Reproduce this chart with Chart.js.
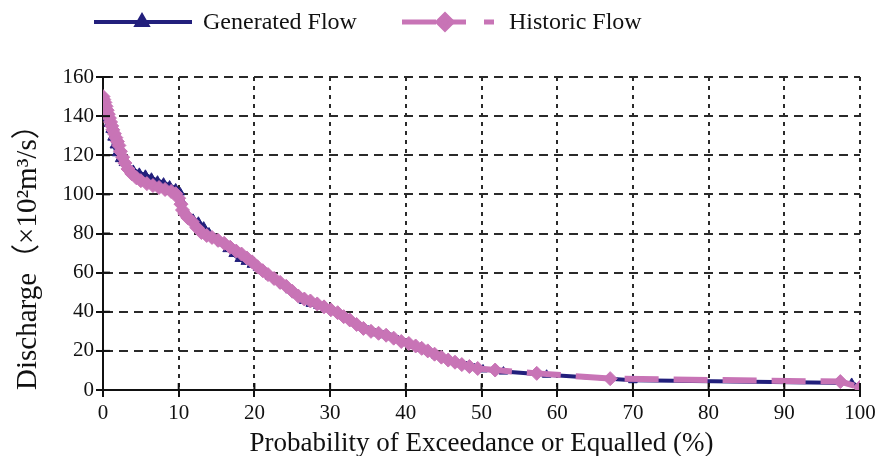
<!DOCTYPE html>
<html><head><meta charset="utf-8">
<script src="https://cdn.jsdelivr.net/npm/chart.js@4.4.1/dist/chart.umd.min.js"></script>
<style>html,body{margin:0;padding:0;background:#fff}</style>
</head><body>
<canvas id="c" width="885" height="456" style="width:885px;height:456px;display:block"></canvas>
<script>
// ---- data ----
const seriesNames = ['Generated Flow', 'Historic Flow'];
const xTitle = 'Probability of Exceedance or Equalled (%)';
const yTitle = 'Discharge\uFF08\u00D710\u00B2m\u00B3/s\uFF09';
const xTicks = [0, 10, 20, 30, 40, 50, 60, 70, 80, 90, 100];
const yTicks = [0, 20, 40, 60, 80, 100, 120, 140, 160];

const historicX = [0, 0.1, 0.25, 0.4, 0.55, 0.7, 0.85, 1.0, 1.15, 1.3, 1.5, 1.7, 1.9, 2.1, 2.3, 2.6, 2.9, 3.3, 3.8, 4.4,
  5.0, 5.8, 6.6, 7.4, 8.2, 9.0, 9.6, 10.0, 10.3, 10.5, 10.8, 11.2, 11.8, 12.4, 13.0, 13.7, 14.4, 15.2, 16.0, 16.8,
  17.6, 18.3, 19.0, 19.7, 20.4, 21.1, 21.8, 22.6, 23.4, 24.2, 25.0, 25.8, 26.6, 27.4, 28.3, 29.2, 30.1, 31.0, 31.8, 32.6,
  33.5, 34.4, 35.4, 36.4, 37.4, 38.4, 39.4, 40.4, 41.3, 42.1, 42.9, 43.8, 44.7, 45.6, 46.5, 47.4, 48.4, 49.5, 51.8, 57.3,
  67.0, 97.4, 100];
const historicY = [150, 148.5, 147, 145, 143, 141, 139, 137, 135, 133, 131, 129, 127, 125, 122, 119, 116, 113, 110.5, 108.5,
  107, 105.5, 104.5, 103.5, 102.5, 101.5, 100.3, 98, 95, 92, 90, 88, 86, 83, 80.5, 79, 78, 76.5, 75, 73,
  71, 69.5, 67.5, 65.5, 63, 61, 59, 57, 55, 53, 50.5, 48, 46.5, 45.5, 44, 42.5, 41, 39.5, 37.5, 35.8,
  33.5, 31.5, 30, 29, 28, 26.5, 24.8, 23.8, 22.5, 21.3, 20, 18.3, 16.8, 15.3, 14.2, 13, 12, 11, 10.2, 8.5,
  5.8, 4.3, 1.4];

const generatedX = [0, 0.2, 0.45, 0.7, 0.95, 1.2, 1.5, 1.8, 2.2, 2.7, 3.3, 4.0, 4.8, 5.6, 6.4, 7.2, 8.0, 8.8, 9.6, 10.2,
  10.5, 10.8, 11.3, 11.9, 12.6, 13.3, 14.0, 14.8, 15.6, 16.4, 17.2, 18.0, 18.8, 19.6, 20.4, 21.2, 22.0, 22.9, 23.8, 24.7,
  25.6, 26.5, 27.4, 28.4, 29.4, 30.4, 31.3, 32.2, 33.1, 34.0, 35.0, 36.0, 37.0, 38.0, 39.0, 40.0, 41.0, 42.0, 43.0, 44.0,
  45.0, 46.0, 47.0, 48.0, 49.0, 50.2, 52.9, 58.6, 70.0, 98.9, 100];
const generatedY = [142, 140.5, 139, 136, 133, 129, 125, 121, 118, 116, 114, 112.5, 111, 110, 108.5, 107, 106, 104.5, 103, 101,
  96, 91, 89, 87.5, 86, 83.5, 80.5, 77.5, 75, 72, 69.5, 67, 65.5, 64, 62.5, 60.5, 58, 56, 53.5, 51,
  48.5, 45.5, 44, 43, 41.5, 40, 38.5, 36.5, 34.5, 32.5, 30.5, 29, 28, 27, 25.5, 24, 22.5, 21, 19.5, 17.5,
  16, 14.5, 13.2, 12.2, 11.2, 10.5, 9.4, 7.8, 5.0, 3.6, 1.6];

// ---- styles ----
const NAVY = '#221f7c';
const PINK = '#c874b6';
const GRID = '#2a2a2a';
const SERIF = "'Liberation Serif', 'Times New Roman', 'Noto Sans CJK SC', serif";

const toPts = (xs, ys) => xs.map((x, i) => ({x, y: ys[i]}));

const innerTicks = {
  id: 'innerTicks',
  afterDraw(chart) {
    const {ctx, scales: {x, y}} = chart;
    ctx.save();
    ctx.strokeStyle = '#111';
    ctx.lineWidth = 2;
    const ax = x.getPixelForValue(0), ay = y.getPixelForValue(0);
    yTicks.forEach(v => { const py = y.getPixelForValue(v); ctx.beginPath(); ctx.moveTo(ax, py); ctx.lineTo(ax + 7, py); ctx.stroke(); });
    xTicks.forEach(v => { const px = x.getPixelForValue(v); ctx.beginPath(); ctx.moveTo(px, ay); ctx.lineTo(px, ay - 7); ctx.stroke(); });
    ctx.restore();
  }
};

const customLegend = {
  id: 'customLegend',
  afterDraw(chart) {
    const ctx = chart.ctx;
    const ly = 22;
    ctx.save();
    // Generated Flow
    ctx.strokeStyle = NAVY; ctx.lineWidth = 4; ctx.setLineDash([]);
    ctx.beginPath(); ctx.moveTo(94, ly); ctx.lineTo(192, ly); ctx.stroke();
    ctx.fillStyle = NAVY; ctx.strokeStyle = NAVY;
    Chart.helpers.drawPoint(ctx, {pointStyle: 'triangle', radius: 6, rotation: 0, borderWidth: 1}, 142, ly);
    // Historic Flow
    ctx.strokeStyle = PINK; ctx.lineWidth = 5;
    ctx.beginPath(); ctx.moveTo(402, ly); ctx.lineTo(436, ly); ctx.moveTo(452, ly); ctx.lineTo(466, ly); ctx.moveTo(484, ly); ctx.lineTo(494, ly); ctx.stroke();
    ctx.fillStyle = PINK; ctx.strokeStyle = PINK;
    Chart.helpers.drawPoint(ctx, {pointStyle: 'rectRot', radius: 7, rotation: 0, borderWidth: 1}, 445, ly);
    ctx.fillStyle = '#111';
    ctx.font = '24px ' + SERIF;
    ctx.textBaseline = 'middle';
    ctx.textAlign = 'left';
    ctx.fillText(seriesNames[0], 203, ly + 1);
    ctx.fillText(seriesNames[1], 509, ly + 1);
    ctx.restore();
  }
};

new Chart(document.getElementById('c'), {
  type: 'scatter',
  data: {
    datasets: [
      {
        label: seriesNames[0], data: toPts(generatedX, generatedY), showLine: true, order: 2,
        borderColor: NAVY, backgroundColor: NAVY, borderWidth: 4,
        pointStyle: 'triangle', pointRadius: 5, pointBorderWidth: 1, pointHoverRadius: 5
      },
      {
        label: seriesNames[1], data: toPts(historicX, historicY), showLine: true, order: 1,
        borderColor: PINK, backgroundColor: PINK, borderWidth: 6, borderDash: [34, 15],
        pointStyle: 'rectRot', pointRadius: 7, pointBorderWidth: 1, pointHoverRadius: 7
      }
    ]
  },
  options: {
    responsive: false,
    animation: false,
    layout: {padding: {top: 77, right: 25, left: 0, bottom: 0}},
    plugins: {legend: {display: false}, tooltip: {enabled: false}},
    scales: {
      x: {
        type: 'linear', min: 0, max: 100,
        afterBuildTicks: s => { s.ticks = xTicks.map(v => ({value: v})); },
        afterFit: s => { s.height = 66; },
        grid: {color: GRID, lineWidth: 2, tickLength: 7, tickColor: '#111', tickWidth: 2},
        border: {display: true, color: '#111', width: 2, dash: [4, 5]},
        ticks: {color: '#111', padding: 4, maxRotation: 0, font: {family: SERIF, size: 21}},
        title: {display: true, text: xTitle, color: '#111', padding: {top: 0, bottom: -1}, font: {family: SERIF, size: 27, lineHeight: 1}}
      },
      y: {
        type: 'linear', min: 0, max: 160,
        afterBuildTicks: s => { s.ticks = yTicks.map(v => ({value: v})); },
        afterFit: s => { s.width = 103; },
        grid: {color: GRID, lineWidth: 2, tickLength: 7, tickColor: '#111', tickWidth: 2},
        border: {display: true, color: '#111', width: 2, dash: [9, 6]},
        ticks: {color: '#111', padding: 2, font: {family: SERIF, size: 21}},
        title: {display: true, text: yTitle, align: 'start', color: '#111', padding: {top: 14, bottom: 0}, font: {family: SERIF, size: 29, lineHeight: 1}}
      }
    }
  },
  plugins: [innerTicks, customLegend]
});
</script>
</body></html>
